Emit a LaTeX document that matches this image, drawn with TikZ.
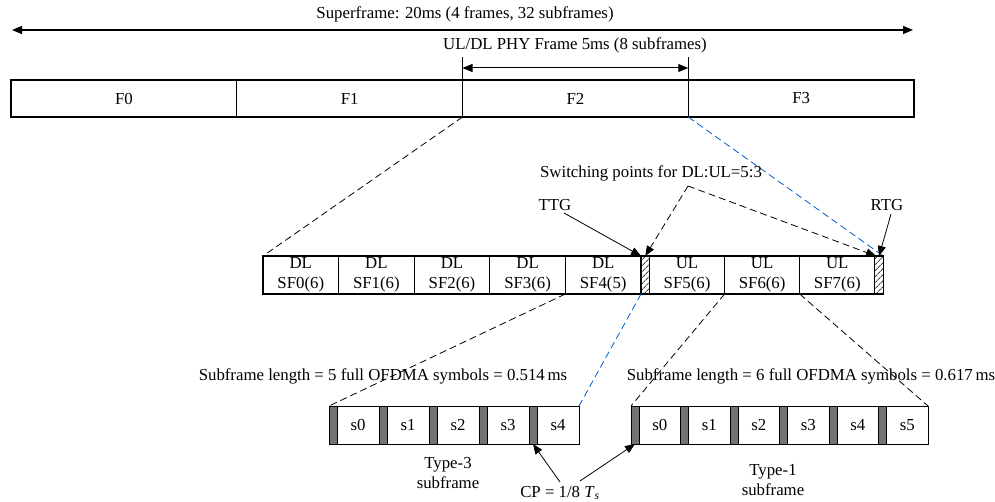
\documentclass[tikz,border=0pt]{standalone}
\usepackage{fontspec}
\setmainfont{Liberation Serif}
\usetikzlibrary{arrows.meta,patterns.meta,calc}

\begin{document}
\begin{tikzpicture}[x=1pt,y=-1pt,
  txt/.style={font=\fontsize{16.8}{20}\selectfont, inner sep=0pt, align=center},
  cell/.style={draw, line width=1.3pt, inner sep=0pt, outer sep=0pt, anchor=north west,
    font=\fontsize{16.8}{20}\selectfont, align=center},
  framebox/.style={cell, minimum width=225.75pt, minimum height=37pt},
  sfbox/.style={cell, minimum width=#1, minimum height=38pt},
  gapbox/.style={cell, minimum width=8.5pt, minimum height=38pt,
    pattern={Lines[angle=45,distance=4pt,line width=0.9pt]}, pattern color=black!75},
  cpbox/.style={cell, line width=1pt, minimum width=8pt, minimum height=38pt, fill=black!55},
  symbox/.style={cell, line width=1pt, minimum width=#1, minimum height=38pt},
  tip/.style={-{Triangle[length=10pt,width=8pt]}, line width=0.8pt},
  dtip/.style={{Triangle[length=10pt,width=8pt]}-{Triangle[length=10pt,width=8pt]}},
  zoomline/.style={dashed, dash pattern=on 7pt off 4pt, line width=0.8pt},
  bluezoom/.style={zoomline, draw=blue!55!cyan!80!black}]

\useasboundingbox (0,0) rectangle (995,502);

% superframe of four frames
\node[framebox] (F0) at (11,80) {F0};
\node[framebox] (F1) at (F0.north east) {F1};
\node[framebox] (F2) at (F1.north east) {F2};
\node[framebox] (F3) at (F2.north east) {F3};

\coordinate (supL) at (12,30);
\coordinate (supR) at (913,30);
\draw[dtip, line width=1.3pt] (supL) -- (supR);
\node[txt] (suplbl) at (465,14) {Superframe: 20ms (4 frames, 32 subframes)};

% one PHY frame
\coordinate (fL) at (F2.north west |- 0,57);
\coordinate (fR) at (F2.north east |- 0,57);
\draw[line width=1pt] (F2.north west) -- (fL);
\draw[line width=1pt] (F2.north east) -- (fR);
\coordinate (fa) at (F2.north west |- 0,68);
\coordinate (fb) at (F2.north east |- 0,68);
\draw[dtip, line width=1pt] (fa) -- (fb);
\node[txt] (framelbl) at (575,45) {UL/DL PHY Frame 5ms (8 subframes)};

% subframes of the PHY frame
\node[sfbox=75.6pt] (SF0) at (263,256) {DL\\SF0(6)};
\node[sfbox=75.6pt] (SF1) at (SF0.north east) {DL\\SF1(6)};
\node[sfbox=75.6pt] (SF2) at (SF1.north east) {DL\\SF2(6)};
\node[sfbox=75.6pt] (SF3) at (SF2.north east) {DL\\SF3(6)};
\node[sfbox=75.6pt] (SF4) at (SF3.north east) {DL\\SF4(5)};
\node[gapbox] (G1) at (SF4.north east) {};
\node[sfbox=75.1pt] (SF5) at (G1.north east) {UL\\SF5(6)};
\node[sfbox=75.1pt] (SF6) at (SF5.north east) {UL\\SF6(6)};
\node[sfbox=75.1pt] (SF7) at (SF6.north east) {UL\\SF7(6)};
\node[gapbox] (G2) at (SF7.north east) {};

\draw[zoomline] (F2.south west) -- (SF0.north west);
\draw[bluezoom] (F2.south east) -- (G2.north east);

% gap labels
\node[txt] (ttg) at (555,205) {TTG};
\node[txt] (rtg) at (887,205) {RTG};
\node[txt] (swlbl) at (651,173) {Switching points for DL:UL=5:3};
\coordinate (ttgs) at (564,213);
\coordinate (rtgs) at (891,214);
\coordinate (sws) at (688,186);
\draw[tip] (ttgs) -- (G1.north west);
\draw[tip] (rtgs) -- (G2.north);
\draw[tip, zoomline] (sws) -- (G1.north);
\draw[tip, zoomline] (sws) -- ($(G2.north)+(-3,0)$);

% type-3 subframe: five symbols with cyclic prefix
\foreach \i in {0,...,4} {
  \node[cpbox] (Lc\i) at ({329+50*\i},406) {};
  \node[symbox=42pt] (Ls\i) at (Lc\i.north east) {s\i};
}
% type-1 subframe: six symbols with cyclic prefix
\foreach \i in {0,...,5} {
  \node[cpbox] (Rc\i) at ({631+49.5*\i},406) {};
  \node[symbox=41.5pt] (Rs\i) at (Rc\i.north east) {s\i};
}

\draw[zoomline] (SF4.south west) -- (Lc0.north west);
\draw[bluezoom] (G1.south west) -- (Ls4.north east);
\draw[zoomline] (SF6.south west) -- (Rc0.north west);
\draw[zoomline] (SF6.south east) -- (Rs5.north east);

\node[txt] (len5) at (383,376) {Subframe length = 5 full OFDMA symbols = 0.514\,ms};
\node[txt] (len6) at (811,376) {Subframe length = 6 full OFDMA symbols = 0.617\,ms};
\node[txt] (type3) at (448,473) {Type-3\\subframe};
\node[txt] (type1) at (773,480) {Type-1\\subframe};

% cyclic prefix
\node[txt] (cp) at (560,493) {CP = 1/8 \textit{T}\textsubscript{\textit{s}}};
\coordinate (cpa) at (560,482);
\coordinate (cpb) at (580,481);
\draw[tip] (cpa) -- (Lc4.south);
\draw[tip] (cpb) -- (Rc0.south);
\end{tikzpicture}
\end{document}
